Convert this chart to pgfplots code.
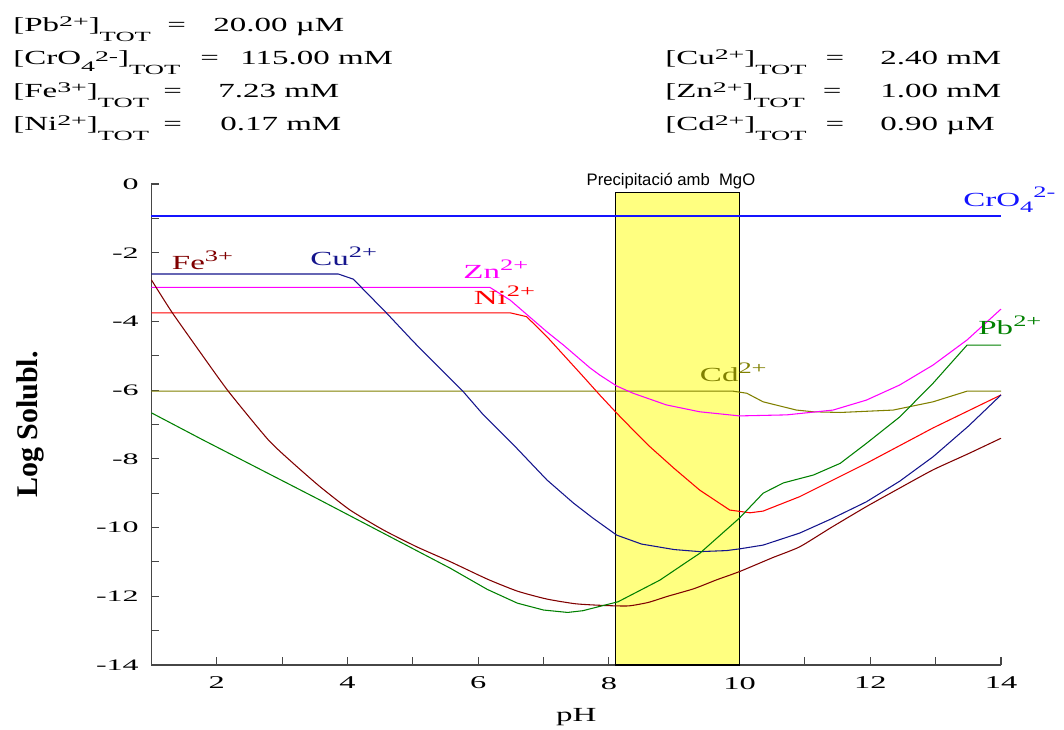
\documentclass[border=0pt]{standalone}
\usepackage{fontspec}
\setmainfont{Liberation Serif}
\newfontfamily\hf[FakeStretch=1.65]{Liberation Serif}
\newfontfamily\hfw[FakeStretch=1.9]{Liberation Serif}
\newfontfamily\tfa[FakeStretch=2.0]{Liberation Serif}
\newfontfamily\tfb[FakeStretch=1.8]{Liberation Serif}
\newfontfamily\pf{Liberation Sans}
\usepackage{pgfplots}
\pgfplotsset{compat=1.18}
\definecolor{chromcol}{RGB}{20,20,255}
\definecolor{cCu}{RGB}{20,20,140}
\definecolor{cFe}{RGB}{128,0,0}
\definecolor{cZn}{RGB}{255,0,255}
\definecolor{cNi}{RGB}{255,0,0}
\definecolor{cCd}{RGB}{128,128,0}
\definecolor{cPb}{RGB}{0,128,0}
\definecolor{cY}{RGB}{255,255,128}
\definecolor{cAx}{RGB}{70,70,70}
\newcommand\hs{\fontsize{15}{18}\hf}
\newcommand\sps[1]{\raisebox{4pt}{\fontsize{11}{13}\hfw #1}}
\newcommand\sbs[1]{\raisebox{-7.5pt}{\fontsize{10.5}{12}\hfw #1}}
\newcommand\lsp[1]{\raisebox{6pt}{\fontsize{12}{14}\hf #1}}
\begin{document}
\begin{tikzpicture}
\useasboundingbox (0,0) rectangle (798pt,546.75pt);
% header, left column
\node[anchor=base west,inner sep=0] at (9.75pt,522.75pt) {\hs [Pb\sps{2+}]\sbs{TOT}};
\node[anchor=base west,inner sep=0] at (125.25pt,522.75pt) {\hs =};
\node[anchor=base west,inner sep=0] at (159.75pt,522.75pt) {\hs 20.00 µM};
\node[anchor=base west,inner sep=0] at (9.75pt,498pt) {\hs [CrO\raisebox{-5.25pt}{\fontsize{11}{13}\hfw 4}\raisebox{2.5pt}{\fontsize{11}{13}\hfw 2-}]\sbs{TOT}};
\node[anchor=base west,inner sep=0] at (150pt,498pt) {\hs =};
\node[anchor=base west,inner sep=0] at (180pt,498pt) {\hs 115.00 mM};
\node[anchor=base west,inner sep=0] at (9.75pt,473.25pt) {\hs [Fe\sps{3+}]\sbs{TOT}};
\node[anchor=base west,inner sep=0] at (122.25pt,473.25pt) {\hs =};
\node[anchor=base west,inner sep=0] at (163.5pt,473.25pt) {\hs 7.23 mM};
\node[anchor=base west,inner sep=0] at (9.75pt,448.5pt) {\hs [Ni\sps{2+}]\sbs{TOT}};
\node[anchor=base west,inner sep=0] at (122.25pt,448.5pt) {\hs =};
\node[anchor=base west,inner sep=0] at (165pt,448.5pt) {\hs 0.17 mM};
% header, right column
\node[anchor=base west,inner sep=0] at (498.75pt,498pt) {\hs [Cu\sps{2+}]\sbs{TOT}};
\node[anchor=base west,inner sep=0] at (619pt,498pt) {\hs =};
\node[anchor=base west,inner sep=0] at (660pt,498pt) {\hs 2.40 mM};
\node[anchor=base west,inner sep=0] at (498.75pt,473.25pt) {\hs [Zn\sps{2+}]\sbs{TOT}};
\node[anchor=base west,inner sep=0] at (617pt,473.25pt) {\hs =};
\node[anchor=base west,inner sep=0] at (660pt,473.25pt) {\hs 1.00 mM};
\node[anchor=base west,inner sep=0] at (498.75pt,448.5pt) {\hs [Cd\sps{2+}]\sbs{TOT}};
\node[anchor=base west,inner sep=0] at (619pt,448.5pt) {\hs =};
\node[anchor=base west,inner sep=0] at (660pt,448.5pt) {\hs 0.90 µM};
\begin{axis}[
  at={(113.55pt,48pt)}, anchor=south west,
  scale only axis, width=637.2pt, height=360.75pt,
  xmin=1, xmax=14, ymin=-14, ymax=0,
  clip=false,
  axis x line*=bottom, axis y line*=left,
  axis line style={-, draw=cAx, line width=0.9pt},
  tick align=inside,
  major tick length=6pt, minor tick length=6pt,
  tick style={draw=cAx, line width=0.8pt},
  xtick={2,4,...,14}, xticklabels={2,4,6,8,10,12,14},
  minor xtick={3,5,...,13},
  ytick={-14,-12,...,0}, yticklabels={-14,-12,-10,-8,-6,-4,-2,0},
  minor ytick={-13,-11,...,-1},
  xticklabel style={font=\fontsize{13.5}{15}\tfb, yshift=-5.5pt},
  yticklabel style={font=\fontsize{12}{14}\tfa, xshift=-6pt},
  xlabel={\hs pH},
  xlabel style={at={(axis description cs:0.5,-0.108)}, anchor=center},
  ylabel={\fontsize{22.5}{26}\selectfont\bfseries Log Solubl.},
  ylabel style={at={(axis description cs:-0.1425,0.5)}, anchor=center},
  every axis plot/.append style={line width=0.8pt},
]
\addplot[fill=cY, draw=black, line width=0.9pt] coordinates {(8.1,-14) (8.1,-0.24) (10,-0.24) (10,-14) (8.1,-14)};
% CrO4
\addplot[draw=chromcol, line width=0.9pt] table {
x y
1 -0.93
14 -0.93
};
% Cd
\addplot[color=cCd] coordinates {(1,-6.03) (9.9,-6.03) (10.11,-6.09) (10.36,-6.34) (10.87,-6.58) (11.13,-6.63) (11.54,-6.65) (12.35,-6.58) (12.96,-6.34) (13.48,-6.03) (14,-6.03)};
% Zn
\addplot[color=cZn] coordinates {(1,-3.01) (6.18,-3.01) (6.49,-3.38) (7.05,-4.30) (7.3,-4.68) (7.71,-5.35) (7.86,-5.56) (8.12,-5.88) (8.37,-6.09) (8.88,-6.43) (9.39,-6.63) (10.0,-6.75) (10.72,-6.72) (11.43,-6.58) (11.94,-6.29) (12.45,-5.85) (12.96,-5.27) (13.48,-4.54) (14,-3.64)};
% Ni
\addplot[color=cNi] coordinates {(1,-3.75) (6.49,-3.75) (6.74,-3.86) (7.05,-4.44) (7.61,-5.61) (7.86,-6.14) (8.12,-6.67) (8.32,-7.06) (8.63,-7.65) (9.0,-8.28) (9.39,-8.91) (9.85,-9.49) (10.16,-9.57) (10.36,-9.52) (10.92,-9.10) (11.94,-8.13) (12.96,-7.10) (14,-6.14)};
% Cu
\addplot[color=cCu] coordinates {(1,-2.62) (3.86,-2.62) (4.09,-2.77) (4.60,-3.76) (5.01,-4.59) (5.26,-5.07) (5.57,-5.66) (5.77,-6.04) (6.08,-6.72) (6.59,-7.69) (7.05,-8.61) (7.46,-9.29) (7.76,-9.73) (8.12,-10.22) (8.5,-10.48) (9.0,-10.64) (9.39,-10.70) (9.8,-10.67) (10.0,-10.62) (10.36,-10.51) (10.92,-10.16) (11.4,-9.75) (11.94,-9.25) (12.45,-8.65) (12.96,-7.94) (13.5,-7.05) (14,-6.14)};
% Fe
\addplot[color=cFe, smooth, tension=0.35] coordinates {(1,-2.79) (1.31,-3.72) (1.74,-4.88) (2.18,-6.04) (2.79,-7.45) (3.17,-8.13) (3.58,-8.81) (4.04,-9.49) (4.55,-10.07) (5.06,-10.56) (5.57,-10.99) (6.14,-11.50) (6.6,-11.85) (7.05,-12.08) (7.5,-12.22) (7.96,-12.27) (8.3,-12.28) (8.6,-12.18) (8.9,-12.0) (9.3,-11.78) (9.65,-11.52) (10.0,-11.28) (10.5,-10.88) (10.92,-10.56) (11.4,-10.0) (11.94,-9.39) (12.45,-8.85) (12.96,-8.32) (13.5,-7.85) (14,-7.40)};
% Pb
\addplot[color=cPb] coordinates {(1,-6.66) (1.79,-7.45) (3.53,-9.15) (5.57,-11.18) (6.14,-11.8) (6.6,-12.2) (7.0,-12.4) (7.37,-12.47) (7.6,-12.42) (8.14,-12.16) (8.78,-11.53) (9.24,-10.94) (9.39,-10.75) (10.0,-9.72) (10.36,-9.0) (10.67,-8.70) (11.13,-8.47) (11.54,-8.13) (11.94,-7.55) (12.45,-6.78) (12.96,-5.80) (13.48,-4.69) (14,-4.69)};
% labels
\node[anchor=base, inner sep=0] at (axis cs:8.95,-0.03) {\fontsize{12.5}{14}\pf Precipitació amb~~MgO};
\node[anchor=base west, inner sep=0, text=chromcol] at (axis cs:13.42,-0.66) {\hs CrO\raisebox{-4.5pt}{\fontsize{12}{14}\hf 4}\raisebox{6.75pt}{\fontsize{12}{14}\hf 2-}};
\node[anchor=base west, inner sep=0, text=cFe] at (axis cs:1.31,-2.50) {\hs Fe\lsp{3+}};
\node[anchor=base west, inner sep=0, text=cCu] at (axis cs:3.43,-2.36) {\hs Cu\lsp{2+}};
\node[anchor=base west, inner sep=0, text=cZn] at (axis cs:5.77,-2.75) {\hs Zn\lsp{2+}};
\node[anchor=base west, inner sep=0, text=cNi] at (axis cs:5.93,-3.52) {\hs Ni\lsp{2+}};
\node[anchor=base west, inner sep=0, text=cCd] at (axis cs:9.39,-5.75) {\hs Cd\lsp{2+}};
\node[anchor=base west, inner sep=0, text=cPb] at (axis cs:13.65,-4.39) {\hs Pb\lsp{2+}};
\end{axis}
\end{tikzpicture}
\end{document}
